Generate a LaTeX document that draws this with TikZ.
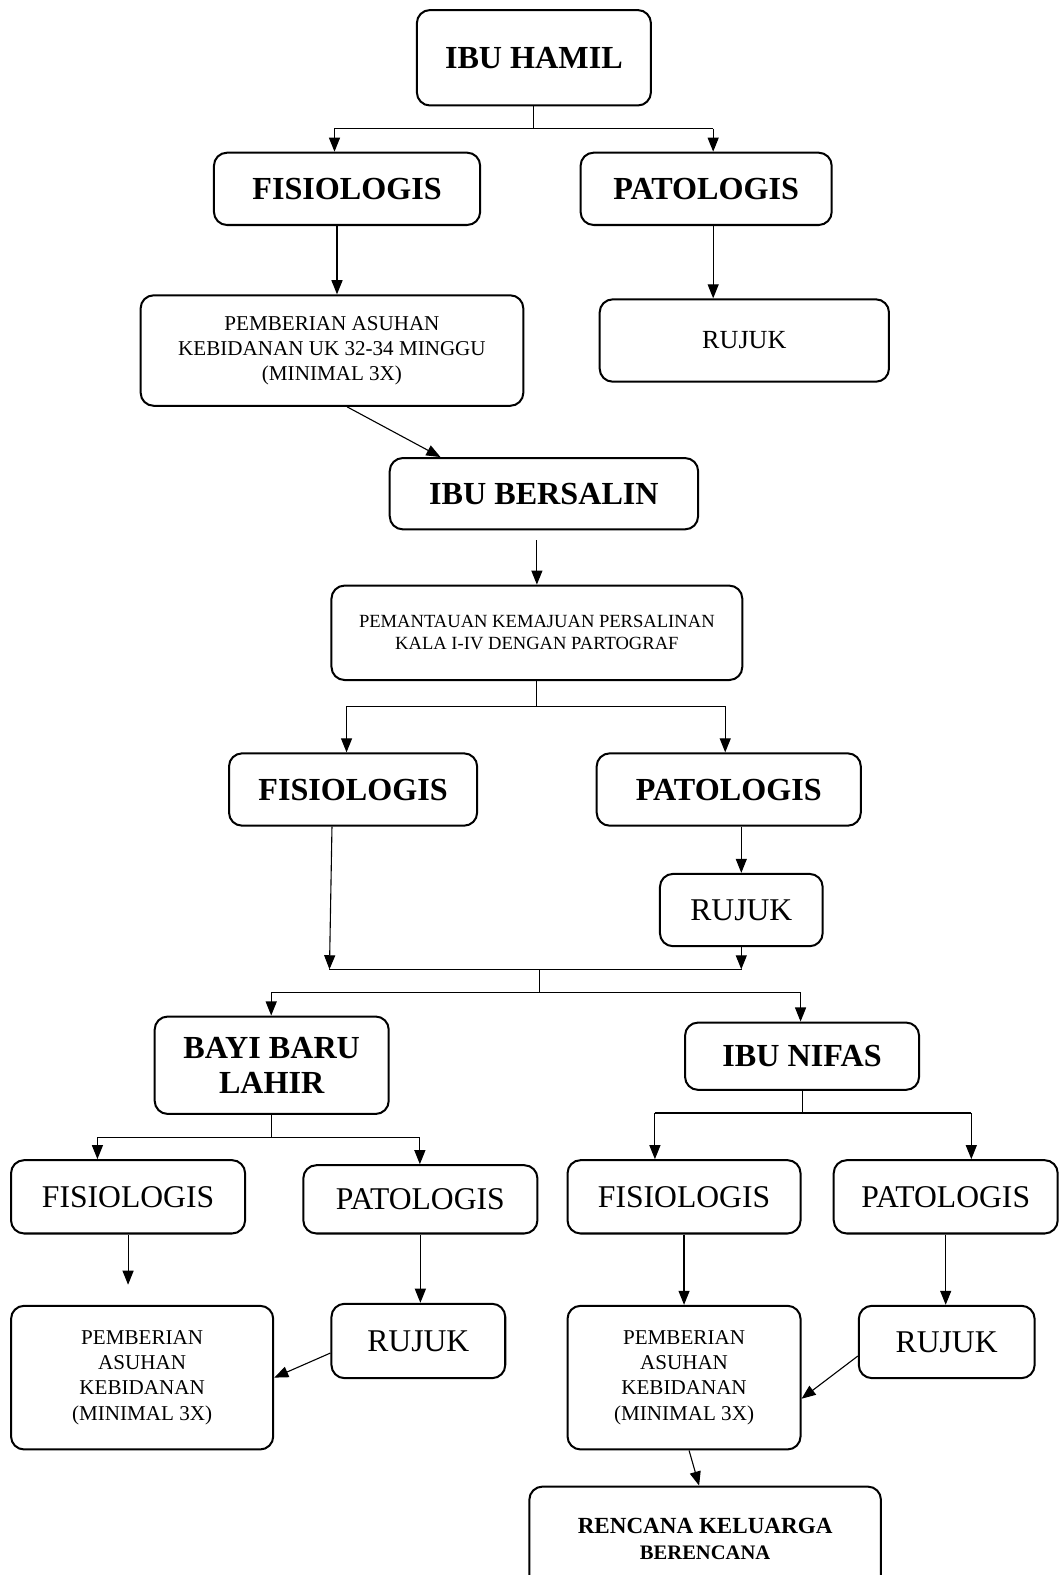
\documentclass[tikz,border=0pt]{standalone}
\usepackage{fontspec}
\setmainfont{Liberation Serif}
\usetikzlibrary{arrows.meta, positioning, calc}

\tikzset{
  box/.style={draw, line width=2pt, rounded corners=13pt, align=center, inner sep=0pt},
  bigbold/.style={font=\fontsize{32}{35}\selectfont\bfseries},
  bigplain/.style={font=\fontsize{31.5}{35}\selectfont},
  smallplain/.style={font=\fontsize{21}{25}\selectfont},
  link/.style={line width=1.1pt},
  arrow/.style={link, -{Triangle[length=14pt,width=11pt]}}
}

\begin{document}
\begin{tikzpicture}[x=1pt, y=-1pt]
\useasboundingbox (0,0) rectangle (1055,1568);

% Ibu hamil
\node[box, bigbold, minimum width=233pt, minimum height=95pt] (hamil) at (531.5,57.5) {IBU HAMIL};
\node[box, bigbold, minimum width=265pt, minimum height=72pt] (fis1) at (345.5,188) {FISIOLOGIS};
\node[box, bigbold, minimum width=250pt, minimum height=72pt] (pat1) at (703,188) {PATOLOGIS};
\node[box, smallplain, minimum width=381pt, minimum height=110pt] (asuh1) at (330.5,349) {PEMBERIAN ASUHAN\\KEBIDANAN UK 32-34 MINGGU\\(MINIMAL 3X)};
\node[box, font=\fontsize{26}{30}\selectfont, minimum width=288pt, minimum height=82pt] (ruj1) at (741,339) {RUJUK};

\coordinate (t1l) at (333,128);
\coordinate (t1r) at (710,128);
\draw[link] (hamil.south) -- (hamil.south |- t1l);
\draw[link] (t1l) -- (t1r);
\draw[arrow] (t1l) -- (t1l |- fis1.north);
\draw[arrow] (t1r) -- (t1r |- pat1.north);
\draw[arrow] ([xshift=-10pt]fis1.south) -- ([xshift=-10pt]fis1.south |- asuh1.north);
\draw[arrow] ([xshift=7pt]pat1.south) -- ([xshift=7pt]pat1.south |- ruj1.north);

% Ibu bersalin
\node[box, bigbold, minimum width=307pt, minimum height=71pt] (bers) at (541.5,491.5) {IBU BERSALIN};
\node[box, font=\fontsize{18.5}{22}\selectfont, minimum width=409pt, minimum height=94pt] (pant) at (534.5,630) {PEMANTAUAN KEMAJUAN PERSALINAN\\KALA I-IV DENGAN PARTOGRAF};
\node[box, bigbold, minimum width=247pt, minimum height=72pt] (fis2) at (351.5,786) {FISIOLOGIS};
\node[box, bigbold, minimum width=263pt, minimum height=72pt] (pat2) at (725.5,786) {PATOLOGIS};
\node[box, bigplain, minimum width=162pt, minimum height=72pt] (ruj2) at (738,906) {RUJUK};

\draw[arrow] ([xshift=15pt]asuh1.south) -- ([xshift=-103pt]bers.north);
\draw[arrow, shorten <=10pt] (bers.south -| pant.north) -- (pant.north);
\coordinate (t2l) at (345,703);
\coordinate (t2r) at (722,703);
\draw[link] (pant.south) -- (pant.south |- t2l);
\draw[link] (t2l) -- (t2r);
\draw[arrow] (t2l) -- (t2l |- fis2.north);
\draw[arrow] (t2r) -- (t2r |- pat2.north);
\draw[arrow] (ruj2.north |- pat2.south) -- (ruj2.north);

% Gabung ke bayi dan nifas
\coordinate (t3l) at (328,965);
\coordinate (t3r) at (739,965);
\coordinate (m3) at (537,965);
\coordinate (t4l) at (270,988);
\coordinate (t4r) at (797,988);
\draw[arrow] ([xshift=-21pt]fis2.south) -- (t3l);
\draw[arrow] (ruj2.south) -- (ruj2.south |- t3r);
\draw[link] (t3l) -- (t3r);
\draw[link] (m3) -- (m3 |- t4l);
\draw[link] (t4l) -- (t4r);

\node[box, bigbold, minimum width=233pt, minimum height=97pt] (bayi) at (270.5,1060.5) {BAYI BARU\\LAHIR};
\node[box, bigbold, minimum width=233pt, minimum height=67pt] (nifas) at (798.5,1051.5) {IBU NIFAS};
\draw[arrow] (t4l) -- (t4l |- bayi.north);
\draw[arrow] (t4r) -- (t4r |- nifas.north);

% Bayi baru lahir
\node[box, bigplain, minimum width=233pt, minimum height=73pt] (fis3) at (127.5,1191.5) {FISIOLOGIS};
\node[box, bigplain, minimum width=233pt, minimum height=68pt] (pat3) at (418.5,1194) {PATOLOGIS};
\node[box, smallplain, minimum width=261pt, minimum height=143pt] (asuh3) at (141.5,1371.5) {PEMBERIAN\\ASUHAN\\KEBIDANAN\\(MINIMAL 3X)};
\node[box, bigplain, minimum width=173pt, minimum height=74pt] (ruj3) at (416.5,1335) {RUJUK};

\coordinate (t5l) at (97,1132);
\coordinate (t5r) at (418,1132);
\draw[link] (bayi.south) -- (bayi.south |- t5l);
\draw[link] (t5l) -- (t5r);
\draw[arrow] (t5l) -- (t5l |- fis3.north);
\draw[arrow] (t5r) -- (t5r |- pat3.north);
\draw[arrow, shorten >=20pt] (fis3.south) -- (fis3.south |- asuh3.north);
\draw[arrow] (pat3.south) -- (pat3.south |- ruj3.north);
\draw[arrow] ([yshift=-12pt]ruj3.west) -- (asuh3.east);

% Ibu nifas
\node[box, bigplain, minimum width=232pt, minimum height=73pt] (fis4) at (681,1191.5) {FISIOLOGIS};
\node[box, bigplain, minimum width=223pt, minimum height=73pt] (pat4) at (941.5,1191.5) {PATOLOGIS};
\node[box, smallplain, minimum width=232pt, minimum height=143pt] (asuh4) at (681,1371.5) {PEMBERIAN\\ASUHAN\\KEBIDANAN\\(MINIMAL 3X)};
\node[box, bigplain, minimum width=175pt, minimum height=72pt] (ruj4) at (942.5,1336) {RUJUK};
\node[box, font=\fontsize{23}{26}\selectfont\bfseries, minimum width=350pt, minimum height=105pt] (renc) at (702,1532.5) {RENCANA KELUARGA\\{\fontsize{20.5}{26}\selectfont BERENCANA}};

\coordinate (t6l) at (652,1108);
\coordinate (t6r) at (967,1108);
\draw[link] (nifas.south) -- (nifas.south |- t6l);
\draw[link] (t6l) -- (t6r);
\draw[arrow] (t6l) -- (t6l |- fis4.north);
\draw[arrow] (t6r) -- (t6r |- pat4.north);
\draw[arrow] (fis4.south) -- (fis4.south |- asuh4.north);
\draw[arrow] (pat4.south) -- (pat4.south |- ruj4.north);
\draw[arrow] ([yshift=-14pt]ruj4.west) -- ([yshift=-21pt]asuh4.east);
\draw[arrow] ([xshift=5pt]asuh4.south) -- ([xshift=-6pt]renc.north);
\end{tikzpicture}
\end{document}
